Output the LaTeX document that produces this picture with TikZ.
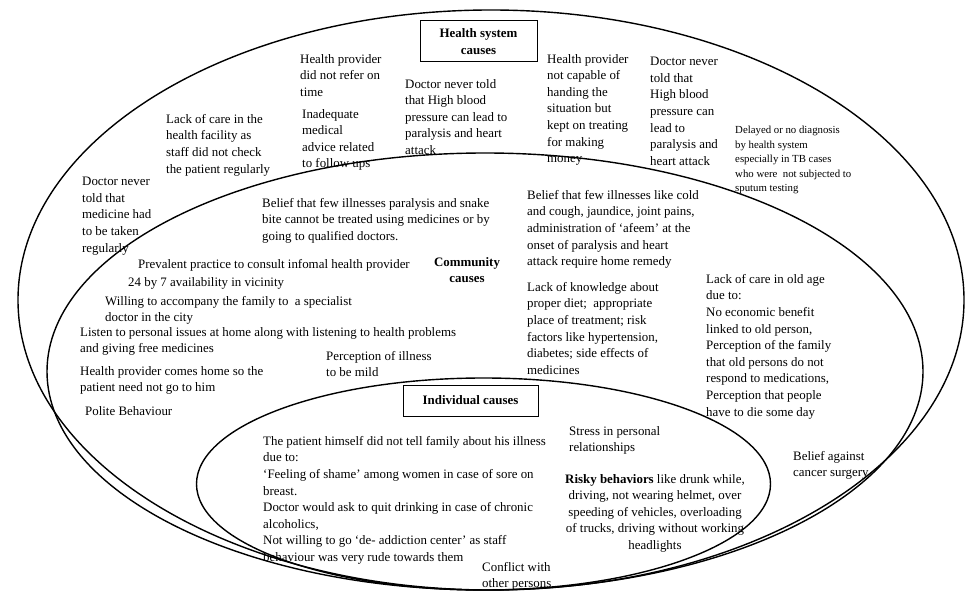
\documentclass[tikz,border=0pt]{standalone}
\usepackage{fontspec}
\setmainfont{Liberation Serif}
\usetikzlibrary{shapes, positioning}

\begin{document}
\begin{tikzpicture}[x=1pt, y=-1pt,
ring/.style={ellipse, draw, line width=1.4pt, inner sep=0pt},
cause/.style={anchor=north west, align=left, inner sep=0pt, font=\fontsize{12.9}{16.6}\selectfont},
smallcause/.style={cause, font=\fontsize{10.8}{14.5}\selectfont},
heading/.style={align=center, inner sep=0pt, font=\bfseries\fontsize{12.9}{16.6}\selectfont},
headbox/.style={heading, draw, line width=1pt},
]
\useasboundingbox (0,0) rectangle (968,593);

%Ellipses
\node[ring, minimum width=946pt, minimum height=580pt] (healthring)     at (491,300)   {};
\node[ring, minimum width=876pt, minimum height=437pt] (communityring)  at (485,371.5) {};
\node[ring, minimum width=574pt, minimum height=212pt] (individualring) at (483.5,484) {};

%Health system causes
\node[headbox, minimum width=117pt, minimum height=41pt] (healthhead) at (478.5,41.5) {Health system\\causes};
\node[cause] (refer)     at (300,54)  {Health provider\\did not refer on\\time};
\node[cause] (followup)  at (302,109) {Inadequate\\medical\\advice related\\to follow ups};
\node[cause] (bloodone)  at (405,79)  {Doctor never told\\that High blood\\pressure can lead to\\paralysis and heart\\attack};
\node[cause] (capable)   at (547,54)  {Health provider\\not capable of\\handing the\\situation but\\kept on treating\\for making\\money};
\node[cause] (bloodtwo)  at (650,57)  {Doctor never\\told that\\High blood\\pressure can\\lead to\\paralysis and\\heart attack};
\node[smallcause] (diagnosis) at (735,126) {Delayed or no diagnosis\\by health system\\especially in TB cases\\who were~ not subjected to\\sputum testing};
\node[cause] (facility)  at (166,114) {Lack of care in the\\health facility as\\staff did not check\\the patient regularly};
\node[cause] (medicine)  at (82,177)  {Doctor never\\told that\\medicine had\\to be taken\\regularly};

%Community causes
\node[heading] (communityhead) at (467,270) {Community\\causes};
\node[cause] (snakebite)  at (262,198) {Belief that few illnesses paralysis and snake\\bite cannot be treated using medicines or by\\going to qualified doctors.};
\node[cause] (remedy)     at (527,190) {Belief that few illnesses like cold\\and cough, jaundice, joint pains,\\administration of `afeem' at the\\onset of paralysis and heart\\attack require home remedy};
\node[cause] (prevalent)  at (138,259) {Prevalent practice to consult infomal health provider};
\node[cause] (vicinity)   at (128,277) {24 by 7 availability in vicinity};
\node[cause] (specialist) at (105,296) {Willing to accompany the family to~ a specialist\\doctor in the city};
\node[cause] (listen)     at (80,327)  {Listen to personal issues at home along with listening to health problems\\and giving free medicines};
\node[cause] (mild)       at (326,351) {Perception of illness\\to be mild};
\node[cause] (homevisit)  at (80,366)  {Health provider comes home so the\\patient need not go to him};
\node[cause] (polite)     at (85,406)  {Polite Behaviour};
\node[cause] (knowledge)  at (527,282) {Lack of knowledge about\\proper diet;~ appropriate\\place of treatment; risk\\factors like hypertension,\\diabetes; side effects of\\medicines};
\node[cause] (oldage)     at (706,274) {Lack of care in old age\\due to:\\No economic benefit\\linked to old person,\\Perception of the family\\that old persons do not\\respond to medications,\\Perception that people\\have to die some day};
\node[cause] (surgery)    at (793,451) {Belief against\\cancer surgery};

%Individual causes
\node[headbox, minimum width=135pt, minimum height=31pt] (individualhead) at (470.5,400.5) {Individual causes};
\node[cause] (shame)    at (263,436) {The patient himself did not tell family about his illness\\due to:\\`Feeling of shame' among women in case of sore on\\breast.\\Doctor would ask to quit drinking in case of chronic\\alcoholics,\\Not willing to go `de- addiction center' as staff\\behaviour was very rude towards them};
\node[cause] (stress)   at (569,426) {Stress in personal\\relationships};
\node[cause, anchor=north, align=center] (risky) at (655,474) {\textbf{Risky behaviors} like drunk while,\\driving, not wearing helmet, over\\speeding of vehicles, overloading\\of trucks, driving without working\\headlights};
\node[cause] (conflict) at (482,562) {Conflict with\\other persons};
\end{tikzpicture}
\end{document}
